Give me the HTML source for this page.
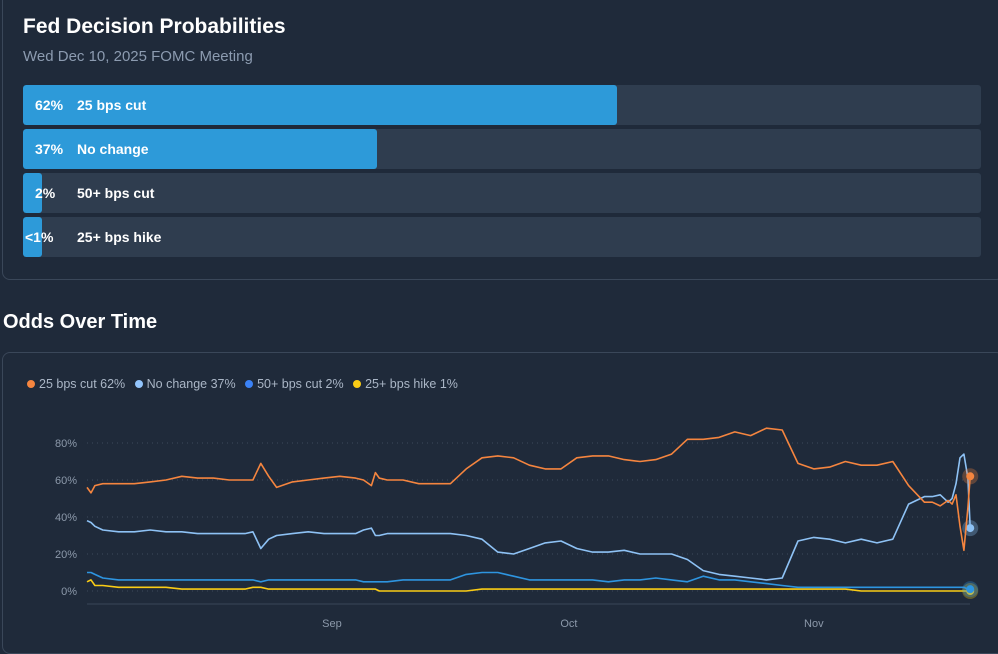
<!DOCTYPE html>
<html><head><meta charset="utf-8"><style>
body{margin:0;width:998px;height:633px;overflow:hidden;background:#1f2a3a;font-family:"Liberation Sans",sans-serif;color:#fff;position:relative}
.card{position:absolute;border:1px solid #3a4759;border-radius:8px}
.row{position:absolute;left:23px;width:958px;height:40px;background:#2f3d4f;border-radius:3px;overflow:hidden}
.fill{position:absolute;left:0;top:0;height:100%;background:#2d9ad9;border-radius:3px}
.pct,.lbl{position:absolute;top:12px;font-size:14px;font-weight:bold;color:#fff}
.pct{left:12px}.lbl{left:54px}
.le{margin-right:6px}
.dot{display:inline-block;width:8px;height:8px;border-radius:50%;margin-right:4px;vertical-align:0px}
</style></head><body>
<div class="card" style="left:2px;top:-10px;width:1000px;height:288px"></div>
<div style="position:absolute;left:23px;top:15px;font-size:21px;font-weight:bold">Fed Decision Probabilities</div>
<div style="position:absolute;left:23px;top:48px;font-size:15px;color:#8c9bb0">Wed Dec 10, 2025 FOMC Meeting</div>
<div class="row" style="top:85px"><div class="fill" style="width:594px"></div><span class="pct">62%</span><span class="lbl">25 bps cut</span></div>
<div class="row" style="top:129px"><div class="fill" style="width:354px"></div><span class="pct">37%</span><span class="lbl">No change</span></div>
<div class="row" style="top:173px"><div class="fill" style="width:19px"></div><span class="pct">2%</span><span class="lbl">50+ bps cut</span></div>
<div class="row" style="top:217px"><div class="fill" style="width:19px"></div><span class="pct" style="left:2px">&lt;1%</span><span class="lbl">25+ bps hike</span></div>
<div style="position:absolute;left:3px;top:311px;font-size:20px;font-weight:bold">Odds Over Time</div>
<div class="card" style="left:2px;top:352px;width:1000px;height:300px"></div>
<div style="position:absolute;left:27px;top:377px;font-size:12.5px;color:#aab6c6;white-space:nowrap">
<span class="le"><span class="dot" style="background:#f5853f"></span>25 bps cut 62%</span>
<span class="le"><span class="dot" style="background:#93c5fd"></span>No change 37%</span>
<span class="le"><span class="dot" style="background:#3b82f6"></span>50+ bps cut 2%</span>
<span class="le"><span class="dot" style="background:#facc15"></span>25+ bps hike 1%</span></div>
<svg id="chart" width="998" height="633" style="position:absolute;left:0;top:0"></svg>
<script>
const days=[0,0.5,1,2,4,6,8,10,12,14,16,18,20,21,22,23,24,26,28,30,32,34,35,36,36.5,37,38,40,42,44,46,48,50,52,54,56,58,60,62,64,66,68,70,72,74,76,78,80,82,84,86,88,90,92,94,96,98,100,102,104,106,107,108,109,109.5,110,110.5,111,111.5,111.8];
const cut25=[56,53,57,58,58,58,59,60,62,61,61,60,60,60,69,62,56,59,60,61,62,61,60,57,64,61,60,60,58,58,58,66,72,73,72,68,66,66,72,73,73,71,70,71,74,82,82,83,86,84,88,87,69,66,67,70,68,68,70,57,48,48,46,49,47,52,35,22,45,62];
const noChange=[38,37,35,33,32,32,33,32,32,31,31,31,31,32,23,28,30,31,32,31,31,31,33,34,30,30,31,31,31,31,31,30,28,21,20,23,26,27,23,21,21,22,20,20,20,17,11,9,8,7,6,7,27,29,28,26,28,26,28,47,51,51,52,48,50,58,72,74,61,34];
const cut50=[10,10,9,7,6,6,6,6,6,6,6,6,6,6,5,6,6,6,6,6,6,6,5,5,5,5,5,6,6,6,6,9,10,10,8,6,6,6,6,6,5,6,6,7,6,5,8,6,6,5,4,3,2,2,2,2,2,2,2,2,2,2,2,2,2,2,2,2,1,1];
const hike25=[5,6,3,3,2,2,2,2,1,1,1,1,1,2,2,1,1,1,1,1,1,1,1,1,1,0,0,0,0,0,0,0,1,1,1,1,1,1,1,1,1,1,1,1,1,1,1,1,1,1,1,1,1,1,1,1,0,0,0,0,0,0,0,0,0,0,0,0,0,0];
const yTicks=[0,20,40,60,80];
const monthLabels=["Sep","Oct","Nov"];
const monthDays=[31,61,92];
const X=d=>87+d*7.9, Y=v=>591-v*1.85;
const svg=document.getElementById('chart'),NS='http://www.w3.org/2000/svg';
function mk(t,a){const e=document.createElementNS(NS,t);for(const k in a)e.setAttribute(k,a[k]);svg.appendChild(e);return e;}
yTicks.forEach(t=>{
 const g=mk('line',{x1:87,x2:970,y1:Y(t),y2:Y(t),stroke:'#3d4a5c','stroke-dasharray':'1 4'});
 
 
 const l=mk('text',{x:77,y:Y(t)+4,'text-anchor':'end','font-size':11,fill:'#8c99aa','font-family':'Liberation Sans'});
 l.textContent=t+'%';
 
 
});
const ax=mk('line',{x1:87,x2:970,y1:604,y2:604,stroke:'#3a4658'});


monthLabels.forEach((m,i)=>{
 const l=mk('text',{x:X(monthDays[i]),y:627,'text-anchor':'middle','font-size':11,fill:'#8c99aa','font-family':'Liberation Sans'});
 l.textContent=m;
 
 
});
const series=[[hike25,'#facc15','hike-25-line'],[cut50,'#2e95e0','cut-50-line'],[noChange,'#8ec2f5','no-change-line'],[cut25,'#f5853f','cut-25-line']];
series.forEach(([vals,c,n])=>{
 const p=mk('path',{d:vals.map((v,i)=>(i?'L':'M')+X(days[i]).toFixed(1)+','+Y(v).toFixed(1)).join(''),fill:'none',stroke:c,'stroke-width':1.6,'stroke-linejoin':'round'});
 
 
 const last=vals[vals.length-1],lx=X(days[days.length-1]);
 const h=mk('circle',{cx:lx,cy:Y(last),r:8,fill:c,'fill-opacity':0.3});
 
 
 const d=mk('circle',{cx:lx,cy:Y(last),r:4,fill:c});
 
 
});
</script>
</body></html>
